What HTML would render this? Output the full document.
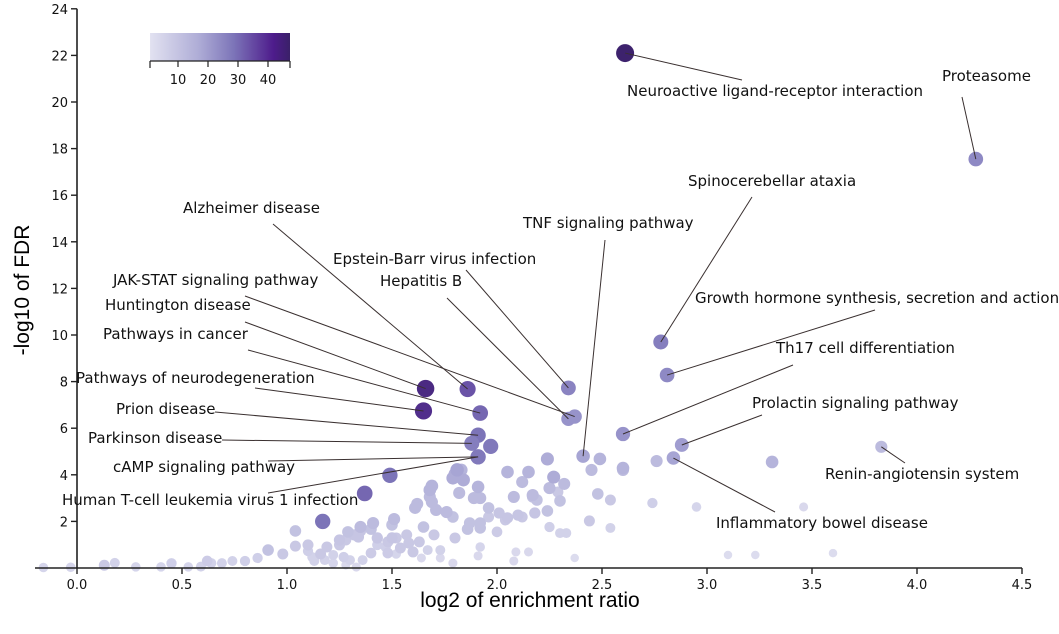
<!DOCTYPE html>
<html><head><meta charset="utf-8"><style>
html,body{margin:0;padding:0;background:#fff;}
svg{display:block;font-family:"DejaVu Sans","Liberation Sans",sans-serif;}
</style></head><body>
<svg id="chart" width="1059" height="634" viewBox="0 0 1059 634" xmlns="http://www.w3.org/2000/svg">
<defs><linearGradient id="cg" x1="0" x2="1" y1="0" y2="0">
<stop offset="0" stop-color="#e2e2f1"/><stop offset="0.35" stop-color="#aeacd6"/><stop offset="0.6" stop-color="#7c74b8"/><stop offset="0.88" stop-color="#4e1c8c"/><stop offset="1" stop-color="#3a2068"/></linearGradient></defs>
<g id="points"></g>
<g id="leaders"></g>
<g id="axes"></g>
<g id="labels"></g>
<g id="legend">
<rect x="150" y="33" width="140" height="28" fill="url(#cg)"/>
</g>
<text x="530" y="607" font-size="21" text-anchor="middle" font-family="Liberation Sans, sans-serif">log2 of enrichment ratio</text>
<text x="0" y="0" font-size="21" text-anchor="middle" font-family="Liberation Sans, sans-serif" transform="translate(29,290) rotate(-90)">-log10 of FDR</text>
</svg>
<script>
const xTicks=[0,0.5,1.0,1.5,2.0,2.5,3.0,3.5,4.0,4.5];
const yTicks=[2,4,6,8,10,12,14,16,18,20,22,24];
const legendTicks=[10,20,30,40];
// labeled pathways
const labNames=["Neuroactive ligand-receptor interaction","Proteasome","Spinocerebellar ataxia","TNF signaling pathway","Alzheimer disease","Epstein-Barr virus infection","Hepatitis B","JAK-STAT signaling pathway","Huntington disease","Pathways in cancer","Pathways of neurodegeneration","Prion disease","Parkinson disease","cAMP signaling pathway","Human T-cell leukemia virus 1 infection","Growth hormone synthesis, secretion and action","Th17 cell differentiation","Prolactin signaling pathway","Renin-angiotensin system","Inflammatory bowel disease"];
const labX=[2.61,4.28,2.78,2.41,1.86,2.34,2.34,2.37,1.66,1.92,1.65,1.91,1.88,1.91,1.91,2.81,2.60,2.88,3.83,2.84];
const labY=[22.1,17.55,9.7,4.8,7.68,7.73,6.4,6.5,7.7,6.65,6.74,5.7,5.35,4.77,4.77,8.28,5.75,5.28,5.2,4.72];
const labCount=[46,24,26,18,33,25,22,22,42,30,40,28,26,27,27,24,22,20,12,18];
// other pathways
const bgX=[2.24,2.49,2.45,2.60,2.76,2.05,2.15,2.12,2.32,2.25,1.81,1.84,1.79,1.91,1.69,1.68,1.62,1.82,1.89,1.92,2.08,2.17,2.19,2.48,2.54,2.74,2.95,2.30,2.24,2.18,2.10,2.05,1.96,2.01,1.71,1.76,1.79,1.51,1.65,1.87,1.92,2.00,2.25,2.30,2.33,2.44,2.54,1.41,1.35,1.29,1.25,1.34,1.43,1.48,1.52,1.58,1.63,1.80,1.70,1.67,1.73,1.92,2.09,2.15,2.37,1.54,1.60,1.48,1.40,1.10,1.19,1.22,1.12,1.27,1.36,1.30,1.61,1.68,1.69,1.80,1.83,1.50,1.50,1.57,1.40,1.35,1.32,1.28,1.25,1.43,1.47,1.52,1.16,1.18,1.13,1.04,0.91,0.98,1.04,1.10,0.86,0.80,0.74,0.69,0.64,0.59,0.53,0.40,0.28,0.13,-0.03,-0.16,1.22,1.28,1.33,1.64,1.73,1.79,1.91,2.08,1.86,1.92,1.96,2.04,2.12,2.17,2.29,3.31,3.46,3.60,3.23,3.10,2.60,1.97,1.49,1.37,1.17,2.27,0.62,0.45,0.18];
const bgY=[4.68,4.68,4.21,4.21,4.59,4.12,4.12,3.69,3.61,3.43,4.21,3.78,3.86,3.48,3.52,3.05,2.75,3.22,3.00,3.00,3.05,3.13,2.92,3.18,2.92,2.79,2.62,2.88,2.45,2.36,2.27,2.15,2.58,2.36,2.49,2.40,2.19,2.10,1.76,1.93,1.93,1.55,1.76,1.50,1.50,2.02,1.72,1.93,1.76,1.55,1.20,1.33,1.29,1.12,1.29,1.07,1.12,1.29,1.42,0.77,0.77,0.90,0.69,0.69,0.43,0.86,0.69,0.64,0.64,0.99,0.90,0.56,0.47,0.47,0.34,0.34,2.58,3.35,2.83,4.03,4.21,1.85,1.29,1.42,1.67,1.59,1.42,1.20,0.99,0.99,0.90,0.60,0.60,0.34,0.30,1.59,0.77,0.60,0.94,0.73,0.43,0.30,0.30,0.21,0.21,0.06,0.05,0.05,0.05,0.12,0.03,0.02,0.21,0.13,0.04,0.43,0.43,0.21,0.52,0.30,1.67,1.72,2.19,2.06,2.19,3.05,3.26,4.55,2.62,0.64,0.56,0.56,4.29,5.22,3.98,3.2,2.0,3.9,0.3,0.2,0.22];
const bgCount=[16,14,12,12,12,14,14,12,12,12,18,16,16,14,14,12,12,12,12,12,12,12,10,10,8,6,4,10,10,9,9,9,10,9,12,12,10,12,10,10,10,7,6,5,5,8,5,12,12,10,9,9,9,8,8,8,8,8,8,5,5,4,3,3,2,8,8,7,7,8,8,5,5,6,5,5,12,14,12,15,14,10,9,8,10,9,9,8,8,6,6,4,8,5,5,10,10,8,8,6,6,6,5,5,5,5,4,4,4,8,4,4,4,3,3,3,3,3,3,3,10,10,8,8,8,10,8,14,3,2,2,2,14,27,28,30,28,16,7,6,5];
const labAnchorX=[742,962,752,605,273,466,447,245,245,248,255,215,222,268,268,875,793,762,905,775];
const labAnchorY=[80,97,197,240,224,270,298,296,322,350,388,412,440,461,493,310,365,415,463,512];
const labTX=[627,942,688,523,183,333,380,113,105,103,76,116,88,113,62,695,776,752,825,716];
const labTY=[96,81,186,228,213,264,286,285,310,339,383,414,443,472,505,303,353,408,479,528];

const NS="http://www.w3.org/2000/svg";
const X0=77,XS=210,Y0=568,YS=23.3;
function sx(v){return X0+v*XS;}
function sy(v){return Y0-v*YS;}
function lx(c){return 148+c*3;}
const stops=[[0,[226,226,241]],[12,[188,187,222]],[20,[160,157,208]],[28,[124,116,184]],[38,[88,50,150]],[47,[58,32,104]]];
function col(c){for(let i=1;i<stops.length;i++){if(c<=stops[i][0]){const a=stops[i-1],b=stops[i];const t=(c-a[0])/(b[0]-a[0]);const m=a[1].map((v,k)=>Math.round(v+(b[1][k]-v)*t));return `rgb(${m})`;}}return "rgb(58,32,104)";}
function rad(c){return 3+6*Math.sqrt(Math.min(c,46)/46);}
function mk(tag,attrs,parent){const e=document.createElementNS(NS,tag);for(const k in attrs)e.setAttribute(k,attrs[k]);parent.appendChild(e);return e;}

const gp=document.getElementById('points');
const order=bgX.map((v,i)=>i).sort((a,b)=>bgCount[a]-bgCount[b]);
order.forEach(i=>{
  const c=mk('circle',{cx:sx(bgX[i]),cy:sy(bgY[i]),r:rad(bgCount[i]),fill:col(bgCount[i])},gp);
  
  
});
labX.forEach((v,i)=>{
  const c=mk('circle',{cx:sx(v),cy:sy(labY[i]),r:rad(labCount[i]),fill:col(labCount[i])},gp);
  
  
});
const gl=document.getElementById('leaders');
const glab=document.getElementById('labels');
labNames.forEach((n,i)=>{
  const l=mk('line',{x1:labAnchorX[i],y1:labAnchorY[i],x2:sx(labX[i]),y2:sy(labY[i]),stroke:'#3a3030','stroke-width':1},gl);
  
  
  const t=mk('text',{x:labTX[i],y:labTY[i],'font-size':15,fill:'#111'},glab);
  t.textContent=n;
  
  
});
const ga=document.getElementById('axes');
let ax=mk('line',{x1:35,y1:Y0,x2:1022,y2:Y0,stroke:'#222','stroke-width':1.6},ga);


let ay=mk('line',{x1:X0,y1:sy(24),x2:X0,y2:Y0,stroke:'#222','stroke-width':1.6},ga);


xTicks.forEach(v=>{
  const tk=mk('line',{x1:sx(v),y1:Y0,x2:sx(v),y2:Y0+6,stroke:'#222','stroke-width':1.4},ga);
  
  
  const t=mk('text',{x:sx(v),y:Y0+21,'font-size':13,'text-anchor':'middle',fill:'#111'},ga);
  t.textContent=v.toFixed(1);
  
  
});
yTicks.forEach(v=>{
  const tk=mk('line',{x1:X0-6,y1:sy(v),x2:X0,y2:sy(v),stroke:'#222','stroke-width':1.4},ga);
  
  
  const t=mk('text',{x:X0-9,y:sy(v)+5,'font-size':13,'text-anchor':'end',fill:'#111'},ga);
  t.textContent=v;
  
  
});
const gleg=document.getElementById('legend');
let lb=mk('line',{x1:150,y1:61,x2:290,y2:61,stroke:'#222','stroke-width':1.2},gleg);


[150,290].forEach(x=>{const e=mk('line',{x1:x,y1:61,x2:x,y2:68,stroke:'#222','stroke-width':1.2},gleg);

});
legendTicks.forEach(v=>{
  const tk=mk('line',{x1:lx(v),y1:61,x2:lx(v),y2:67,stroke:'#222','stroke-width':1.2},gleg);
  
  
  const t=mk('text',{x:lx(v),y:84,'font-size':13,'text-anchor':'middle',fill:'#111'},gleg);
  t.textContent=v;
  
  
});
</script>
</body></html>
